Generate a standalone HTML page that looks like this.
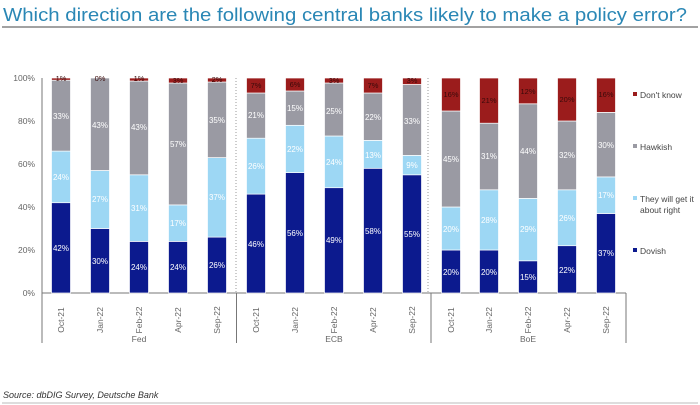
<!DOCTYPE html>
<html><head><meta charset="utf-8"><style>
html,body{margin:0;padding:0;background:#fff;}
svg{display:block;font-family:"Liberation Sans",sans-serif;}
</style></head><body>
<svg width="700" height="405" viewBox="0 0 700 405" xmlns="http://www.w3.org/2000/svg">
<text x="3" y="21" font-size="18.5" fill="#2a87b5" textLength="684" lengthAdjust="spacingAndGlyphs">Which direction are the following central banks likely to make a policy error?</text>
<line x1="2" y1="27" x2="698" y2="27" stroke="#444" stroke-width="1"/>

<g font-size="8.5" fill="#666" text-anchor="end">
<text x="35" y="81">100%</text><text x="35" y="124">80%</text><text x="35" y="167">60%</text>
<text x="35" y="210">40%</text><text x="35" y="253">20%</text><text x="35" y="296">0%</text>
</g>
<line x1="42" y1="78" x2="42" y2="343" stroke="#777"/>
<line x1="42" y1="293" x2="626" y2="293" stroke="#777"/>
<line x1="236.5" y1="293" x2="236.5" y2="343" stroke="#777"/>
<line x1="431" y1="293" x2="431" y2="343" stroke="#777"/>
<line x1="626" y1="293" x2="626" y2="343" stroke="#777"/>
<line x1="236" y1="78" x2="236" y2="293" stroke="#999" stroke-dasharray="1,2"/>
<line x1="428" y1="78" x2="428" y2="293" stroke="#999" stroke-dasharray="1,2"/>

<g stroke="#fff" stroke-width="0.7">
<rect x="51.5" y="202.7" width="19" height="90.3" fill="#0c1a8e"/><rect x="51.5" y="151.1" width="19" height="51.6" fill="#9dd7f4"/><rect x="51.5" y="80.2" width="19" height="70.9" fill="#9a9aa3"/><rect x="51.5" y="78" width="19" height="2.2" fill="#9b1c1c"/>
<rect x="90.5" y="228.5" width="19" height="64.5" fill="#0c1a8e"/><rect x="90.5" y="170.5" width="19" height="58" fill="#9dd7f4"/><rect x="90.5" y="78" width="19" height="92.5" fill="#9a9aa3"/>
<rect x="129.5" y="241.4" width="19" height="51.6" fill="#0c1a8e"/><rect x="129.5" y="174.8" width="19" height="66.6" fill="#9dd7f4"/><rect x="129.5" y="81" width="19" height="93.8" fill="#9a9aa3"/><rect x="129.5" y="78" width="19" height="3" fill="#9b1c1c"/>
<rect x="168.5" y="241.4" width="19" height="51.6" fill="#0c1a8e"/><rect x="168.5" y="204.9" width="19" height="36.5" fill="#9dd7f4"/><rect x="168.5" y="83" width="19" height="121.9" fill="#9a9aa3"/><rect x="168.5" y="78" width="19" height="5" fill="#9b1c1c"/>
<rect x="207.5" y="237.1" width="19" height="55.9" fill="#0c1a8e"/><rect x="207.5" y="157.6" width="19" height="79.5" fill="#9dd7f4"/><rect x="207.5" y="82" width="19" height="75.6" fill="#9a9aa3"/><rect x="207.5" y="78" width="19" height="4" fill="#9b1c1c"/>
<rect x="246.5" y="194.1" width="19" height="98.9" fill="#0c1a8e"/><rect x="246.5" y="138.2" width="19" height="55.9" fill="#9dd7f4"/><rect x="246.5" y="93" width="19" height="45.2" fill="#9a9aa3"/><rect x="246.5" y="78" width="19" height="15" fill="#9b1c1c"/>
<rect x="285.5" y="172.6" width="19" height="120.4" fill="#0c1a8e"/><rect x="285.5" y="125.3" width="19" height="47.3" fill="#9dd7f4"/><rect x="285.5" y="91" width="19" height="34.3" fill="#9a9aa3"/><rect x="285.5" y="78" width="19" height="13" fill="#9b1c1c"/>
<rect x="324.5" y="187.7" width="19" height="105.3" fill="#0c1a8e"/><rect x="324.5" y="136" width="19" height="51.7" fill="#9dd7f4"/><rect x="324.5" y="83" width="19" height="53" fill="#9a9aa3"/><rect x="324.5" y="78" width="19" height="5" fill="#9b1c1c"/>
<rect x="363.5" y="168.3" width="19" height="124.7" fill="#0c1a8e"/><rect x="363.5" y="140.4" width="19" height="27.9" fill="#9dd7f4"/><rect x="363.5" y="93" width="19" height="47.4" fill="#9a9aa3"/><rect x="363.5" y="78" width="19" height="15" fill="#9b1c1c"/>
<rect x="402.5" y="174.8" width="19" height="118.2" fill="#0c1a8e"/><rect x="402.5" y="155.4" width="19" height="19.4" fill="#9dd7f4"/><rect x="402.5" y="84.5" width="19" height="70.9" fill="#9a9aa3"/><rect x="402.5" y="78" width="19" height="6.5" fill="#9b1c1c"/>
<rect x="441.5" y="250" width="19" height="43" fill="#0c1a8e"/><rect x="441.5" y="207" width="19" height="43" fill="#9dd7f4"/><rect x="441.5" y="111" width="19" height="96" fill="#9a9aa3"/><rect x="441.5" y="78" width="19" height="33" fill="#9b1c1c"/>
<rect x="479.5" y="250" width="19" height="43" fill="#0c1a8e"/><rect x="479.5" y="189.8" width="19" height="60.2" fill="#9dd7f4"/><rect x="479.5" y="123.2" width="19" height="66.6" fill="#9a9aa3"/><rect x="479.5" y="78" width="19" height="45.2" fill="#9b1c1c"/>
<rect x="518.5" y="260.8" width="19" height="32.2" fill="#0c1a8e"/><rect x="518.5" y="198.4" width="19" height="62.4" fill="#9dd7f4"/><rect x="518.5" y="103.8" width="19" height="94.6" fill="#9a9aa3"/><rect x="518.5" y="78" width="19" height="25.8" fill="#9b1c1c"/>
<rect x="557.5" y="245.7" width="19" height="47.3" fill="#0c1a8e"/><rect x="557.5" y="189.8" width="19" height="55.9" fill="#9dd7f4"/><rect x="557.5" y="121" width="19" height="68.8" fill="#9a9aa3"/><rect x="557.5" y="78" width="19" height="43" fill="#9b1c1c"/>
<rect x="596.5" y="213.5" width="19" height="79.5" fill="#0c1a8e"/><rect x="596.5" y="176.9" width="19" height="36.6" fill="#9dd7f4"/><rect x="596.5" y="112.4" width="19" height="64.5" fill="#9a9aa3"/><rect x="596.5" y="78" width="19" height="34.4" fill="#9b1c1c"/>
</g>

<g font-size="8" fill="#fff" text-anchor="middle">
<text x="61" y="251">42%</text><text x="61" y="180">24%</text><text x="61" y="119">33%</text>
<text x="100" y="264">30%</text><text x="100" y="202">27%</text><text x="100" y="128">43%</text>
<text x="139" y="270">24%</text><text x="139" y="211">31%</text><text x="139" y="130">43%</text>
<text x="178" y="270">24%</text><text x="178" y="226">17%</text><text x="178" y="147">57%</text>
<text x="217" y="268">26%</text><text x="217" y="200">37%</text><text x="217" y="123">35%</text>
<text x="256" y="247">46%</text><text x="256" y="169">26%</text><text x="256" y="118">21%</text>
<text x="295" y="236">56%</text><text x="295" y="152">22%</text><text x="295" y="111">15%</text>
<text x="334" y="243">49%</text><text x="334" y="165">24%</text><text x="334" y="114">25%</text>
<text x="373" y="234">58%</text><text x="373" y="158">13%</text><text x="373" y="120">22%</text>
<text x="412" y="237">55%</text><text x="412" y="168">9%</text><text x="412" y="124">33%</text>
<text x="451" y="275">20%</text><text x="451" y="232">20%</text><text x="451" y="162">45%</text>
<text x="489" y="275">20%</text><text x="489" y="223">28%</text><text x="489" y="159">31%</text>
<text x="528" y="280">15%</text><text x="528" y="232">29%</text><text x="528" y="154">44%</text>
<text x="567" y="273">22%</text><text x="567" y="221">26%</text><text x="567" y="158">32%</text>
<text x="606" y="256">37%</text><text x="606" y="198">17%</text><text x="606" y="148">30%</text>
</g>
<g font-size="7.5" fill="#3a0a0a" text-anchor="middle">
<text x="61" y="81">1%</text><text x="100" y="81">0%</text><text x="139" y="81">1%</text><text x="178" y="83">3%</text><text x="217" y="82">2%</text>
<text x="256" y="88">7%</text><text x="295" y="87">6%</text><text x="334" y="83">3%</text><text x="373" y="88">7%</text><text x="412" y="83">3%</text>
<text x="451" y="97">16%</text><text x="489" y="103">21%</text><text x="528" y="94">12%</text><text x="567" y="102">20%</text><text x="606" y="97">16%</text>
</g>

<g font-size="8.5" fill="#666" text-anchor="middle">
<text transform="translate(64,320) rotate(-90)">Oct-21</text>
<text transform="translate(103,320) rotate(-90)">Jan-22</text>
<text transform="translate(142,320) rotate(-90)">Feb-22</text>
<text transform="translate(181,320) rotate(-90)">Apr-22</text>
<text transform="translate(220,320) rotate(-90)">Sep-22</text>
<text transform="translate(259,320) rotate(-90)">Oct-21</text>
<text transform="translate(298,320) rotate(-90)">Jan-22</text>
<text transform="translate(337,320) rotate(-90)">Feb-22</text>
<text transform="translate(376,320) rotate(-90)">Apr-22</text>
<text transform="translate(415,320) rotate(-90)">Sep-22</text>
<text transform="translate(454,320) rotate(-90)">Oct-21</text>
<text transform="translate(492,320) rotate(-90)">Jan-22</text>
<text transform="translate(531,320) rotate(-90)">Feb-22</text>
<text transform="translate(570,320) rotate(-90)">Apr-22</text>
<text transform="translate(609,320) rotate(-90)">Sep-22</text>
<text x="139" y="342">Fed</text><text x="334" y="342">ECB</text><text x="528" y="342">BoE</text>
</g>

<g font-size="8.5" fill="#444">
<rect x="633" y="92" width="4" height="4" fill="#9b1c1c"/><text x="640" y="98">Don't know</text>
<rect x="633" y="144" width="4" height="4" fill="#9a9aa3"/><text x="640" y="150">Hawkish</text>
<rect x="633" y="196" width="4" height="4" fill="#9dd7f4"/><text x="640" y="202">They will get it</text><text x="640" y="213">about right</text>
<rect x="633" y="248" width="4" height="4" fill="#0c1a8e"/><text x="640" y="254">Dovish</text>
</g>

<text x="3" y="398" font-size="9" font-style="italic" fill="#333">Source: dbDIG Survey, Deutsche Bank</text>
<line x1="2" y1="403" x2="698" y2="403" stroke="#bbb" stroke-width="1"/>
</svg>
</body></html>
